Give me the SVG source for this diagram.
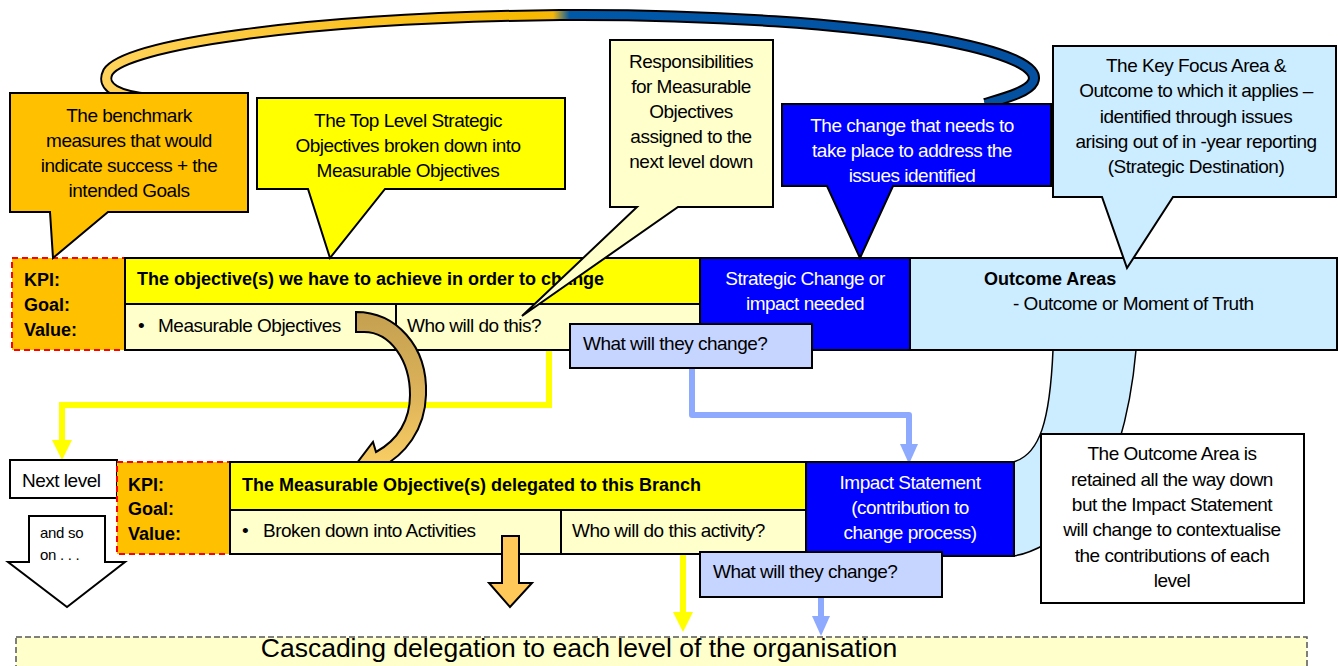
<svg xmlns="http://www.w3.org/2000/svg" width="1338" height="666" viewBox="0 0 1338 666">
<style>
text{font-family:"Liberation Sans",Arial,sans-serif;fill:#000}
.t{font-size:19px;letter-spacing:-0.5px}
.c{text-anchor:middle}
.w{fill:#fff}
.b{font-size:18px;font-weight:bold}
.k{font-size:18px;font-weight:bold}
.box{stroke:#000;stroke-width:2}
.kpi{fill:#FFC000;stroke:#FF0000;stroke-width:2;stroke-dasharray:6,4}
.ylw{fill:#FFFF00}
.lyl{fill:#FFFFCC}
.blu{fill:#0000FF}
.lbl{fill:#CCECFF}
.wch{fill:#C6D5FF}
</style>
<defs>
<linearGradient id="arcg" gradientUnits="userSpaceOnUse" x1="100" y1="0" x2="1040" y2="0">
<stop offset="0" stop-color="#FFD35C"/>
<stop offset="0.46" stop-color="#F8B800"/>
<stop offset="0.482" stop-color="#F6B70A"/>
<stop offset="0.5" stop-color="#0058A8"/>
<stop offset="1" stop-color="#0550A0"/>
</linearGradient>
<linearGradient id="cg" x1="0" y1="0" x2="0" y2="1">
<stop offset="0" stop-color="#C4A050"/>
<stop offset="0.5" stop-color="#DDB35A"/>
<stop offset="1" stop-color="#FFD466"/>
</linearGradient>
<marker id="ay" markerUnits="userSpaceOnUse" viewBox="0 0 20 20" markerWidth="20" markerHeight="20" refX="0" refY="10" orient="auto">
<path d="M0,0 L20,10 L0,20 Z" fill="#FFFF00"/>
</marker>
<marker id="ab" markerUnits="userSpaceOnUse" viewBox="0 0 20 18" markerWidth="20" markerHeight="18" refX="0" refY="9" orient="auto">
<path d="M0,0 L20,9 L0,18 Z" fill="#8EAAFF"/>
</marker>
</defs>

<g id="arc">
<path d="M150,99 C120,96 100,88 108,72 C125,45 300,18 560,15 C720,14 850,25 930,38 C1010,52 1040,68 1033,82 C1028,92 1005,98 985,104" fill="none" stroke="#000" stroke-width="12"/>
<path d="M150,99 C120,96 100,88 108,72 C125,45 300,18 560,15 C720,14 850,25 930,38 C1010,52 1040,68 1033,82 C1028,92 1005,98 985,104" fill="none" stroke="url(#arcg)" stroke-width="8"/>
</g>

<g id="outcome-band">
<path d="M1053,350 C1050,420 1040,455 1013,462 L1013,556 C1030,554 1060,540 1090,510 C1110,480 1130,420 1136,350 Z" fill="#CCECFF" stroke="#000" stroke-width="1.5"/>
</g>

<g id="connectors">
<path d="M549,350 V405 H62 V440" fill="none" stroke="#FFFF00" stroke-width="6" marker-end="url(#ay)"/>
<path d="M692,368 V415 H909 V444" fill="none" stroke="#8EAAFF" stroke-width="6" stroke-linejoin="round" marker-end="url(#ab)"/>
<path d="M683,554 V612" fill="none" stroke="#FFFF00" stroke-width="6" marker-end="url(#ay)"/>
<path d="M821,597 V616" fill="none" stroke="#8EAAFF" stroke-width="6" marker-end="url(#ab)"/>
</g>

<g id="top-kpi">
<rect x="12" y="258" width="113" height="92" class="kpi"/>
<text class="k" x="24" y="286">KPI:</text>
<text class="k" x="24" y="311">Goal:</text>
<text class="k" x="24" y="336">Value:</text>
</g>
<g id="top-objective">
<rect x="125" y="258" width="575" height="46" class="box ylw"/>
<text class="b" x="137" y="285">The objective(s) we have to achieve in order to change</text>
</g>
<g id="top-measurable">
<rect x="125" y="304" width="271" height="46" class="box lyl"/>
<text class="t" x="138" y="332">•</text>
<text class="t" x="158" y="332">Measurable Objectives</text>
</g>
<g id="top-who">
<rect x="396" y="304" width="304" height="46" class="box lyl"/>
<text class="t" x="407" y="332">Who will do this?</text>
</g>
<g id="top-strategic">
<rect x="700" y="258" width="210" height="92" class="box blu"/>
<text class="t c w" x="805" y="285">Strategic  Change or</text>
<text class="t c w" x="805" y="310">impact needed</text>
</g>
<g id="top-outcome">
<rect x="910" y="258" width="427" height="92" class="box lbl"/>
<text class="b" x="984" y="285">Outcome Areas</text>
<text class="t" x="1013" y="310">- Outcome or Moment of Truth</text>
</g>
<g id="top-what">
<rect x="570" y="324" width="242" height="44" class="box wch"/>
<text class="t" x="583" y="350">What will they change?</text>
</g>

<g id="curved-arrow">
<path d="M356,312 C395,312 428,345 426,395 C425,430 405,455 380,468 L382,480 L357,463 L373,442 L376,452 C398,440 410,420 410,395 C410,360 390,332 364,332 L356,332 Z" fill="url(#cg)" stroke="#000" stroke-width="2" stroke-linejoin="miter"/>
</g>

<g id="next-level">
<rect x="10" y="460" width="107" height="38" class="box" fill="#fff"/>
<text class="t" x="22" y="487">Next level</text>
</g>
<g id="and-so-on">
<polygon points="29,516 105,516 105,562 125,562 67,607 8,562 29,562" fill="#fff" stroke="#000" stroke-width="2"/>
<text x="40" y="538" style="font-size:15px;letter-spacing:-0.3px">and so</text>
<text x="40" y="560" style="font-size:15px;letter-spacing:-0.3px">on . . .</text>
</g>
<g id="low-kpi">
<rect x="117" y="462" width="113" height="92" class="kpi"/>
<text class="k" x="128" y="491">KPI:</text>
<text class="k" x="128" y="515">Goal:</text>
<text class="k" x="128" y="540">Value:</text>
</g>
<g id="low-objective">
<rect x="230" y="462" width="576" height="48" class="box ylw"/>
<text class="b" x="242" y="491">The Measurable Objective(s) delegated to this Branch</text>
</g>
<g id="low-broken">
<rect x="230" y="510" width="331" height="44" class="box lyl"/>
<text class="t" x="242" y="537">•</text>
<text class="t" x="263" y="537">Broken down into Activities</text>
</g>
<g id="low-who">
<rect x="561" y="510" width="245" height="44" class="box lyl"/>
<text class="t" x="572" y="537">Who will do this activity?</text>
</g>
<g id="low-impact">
<rect x="806" y="462" width="208" height="94" class="box blu"/>
<text class="t c w" x="910" y="489">Impact Statement</text>
<text class="t c w" x="910" y="514">(contribution  to</text>
<text class="t c w" x="910" y="539">change process)</text>
</g>
<g id="low-what">
<rect x="700" y="552" width="242" height="45" class="box wch"/>
<text class="t" x="713" y="578">What will they change?</text>
</g>
<g id="gold-arrow">
<polygon points="502,536 519,536 519,583 532,583 510,607 489,583 502,583" fill="#FFC858" stroke="#000" stroke-width="2"/>
</g>

<g id="retained-note">
<rect x="1041" y="434" width="263" height="169" class="box" fill="#fff"/>
<text class="t c" x="1172" y="460">The Outcome Area is</text>
<text class="t c" x="1172" y="486">retained all the way down</text>
<text class="t c" x="1172" y="511">but the  Impact Statement</text>
<text class="t c" x="1172" y="536">will change to contextualise</text>
<text class="t c" x="1172" y="562">the contributions of each</text>
<text class="t c" x="1172" y="587">level</text>
</g>

<g id="cascade">
<rect x="16" y="637" width="1291" height="40" fill="#FFFFCC" stroke="#555" stroke-width="1.5" stroke-dasharray="6,3"/>
<text x="579" y="657" style="font-size:26.5px;text-anchor:middle">Cascading delegation to each level of the organisation</text>
</g>

<g id="callout-benchmark">
<path d="M10,93 H248 V212 H108 L53,258 L50,212 H10 Z" fill="#FFC000" stroke="#000" stroke-width="2"/>
<text class="t c" x="129" y="122">The benchmark</text>
<text class="t c" x="129" y="147">measures that would</text>
<text class="t c" x="129" y="172">indicate success + the</text>
<text class="t c" x="129" y="197">intended Goals</text>
</g>
<g id="callout-toplevel">
<path d="M257,98 H565 V189 H385 L330,258 L308,189 H257 Z" fill="#FFFF00" stroke="#000" stroke-width="2"/>
<text class="t c" x="408" y="127">The Top Level Strategic</text>
<text class="t c" x="408" y="152">Objectives broken down into</text>
<text class="t c" x="408" y="177">Measurable Objectives</text>
</g>
<g id="callout-responsibilities">
<path d="M610,40 H773 V207 H678 L522,316 L637,207 H610 Z" fill="#FFFFCC" stroke="#000" stroke-width="2"/>
<text class="t c" x="691" y="68">Responsibilities</text>
<text class="t c" x="691" y="93">for Measurable</text>
<text class="t c" x="691" y="118">Objectives</text>
<text class="t c" x="691" y="143">assigned to the</text>
<text class="t c" x="691" y="168">next level down</text>
</g>
<g id="callout-change">
<path d="M782,104 H1051 V186 H893 L860,258 L827,186 H782 Z" fill="#0000FF" stroke="#000" stroke-width="2"/>
<text class="t c w" x="912" y="132">The change that needs to</text>
<text class="t c w" x="912" y="157">take place to   address the</text>
<text class="t c w" x="912" y="182">issues identified</text>
</g>
<g id="callout-keyfocus">
<path d="M1053,46 H1336 V197 H1173 L1127,268 L1102,197 H1053 Z" fill="#CCECFF" stroke="#000" stroke-width="2"/>
<text class="t c" x="1196" y="72">The  Key Focus Area   &amp;</text>
<text class="t c" x="1196" y="97">Outcome to which it  applies –</text>
<text class="t c" x="1196" y="123">identified through issues</text>
<text class="t c" x="1196" y="148">arising out of in -year reporting</text>
<text class="t c" x="1196" y="173">(Strategic Destination)</text>
</g>
</svg>
